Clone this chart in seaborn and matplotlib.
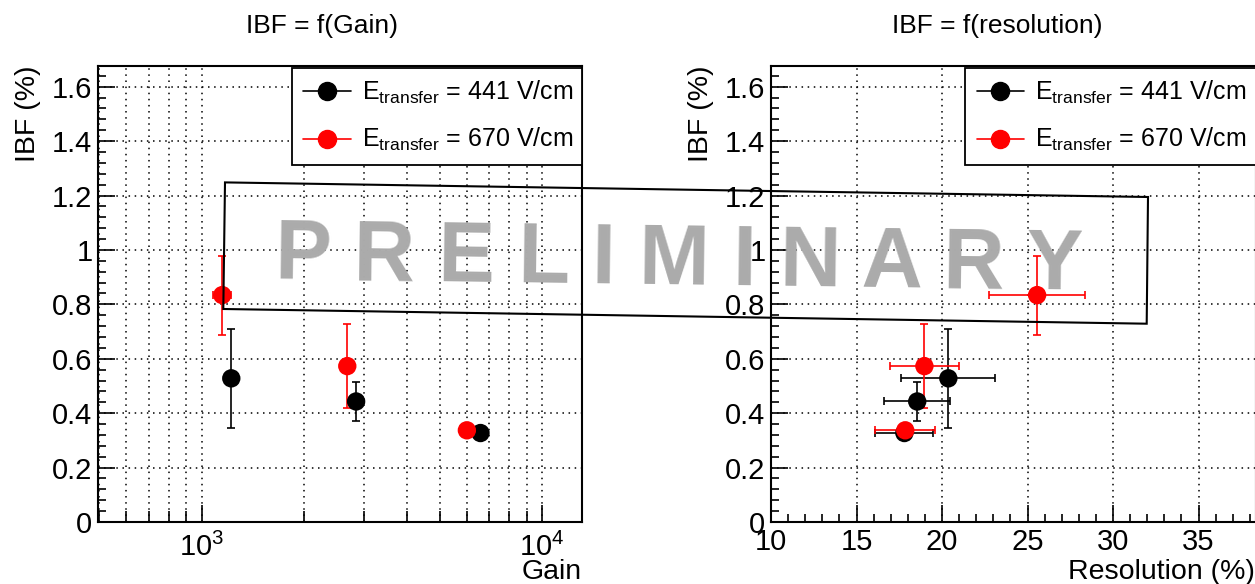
import numpy as np
import pandas as pd
import matplotlib
matplotlib.use('Agg')
import matplotlib.pyplot as plt
from matplotlib.lines import Line2D
from matplotlib.patches import Polygon
from matplotlib.ticker import MultipleLocator, FormatStrFormatter
import seaborn as sns

# data
fields = ['441 V/cm', '670 V/cm']
gain_441 = [1220, 2840, 6590]
gain_670 = [1148, 2675, 6010]
gain_err_441 = [0, 0, 0]
gain_err_670 = [72, 0, 0]
ibf_441 = [0.528, 0.443, 0.327]
ibf_670 = [0.834, 0.573, 0.337]
ibf_err_441 = [0.183, 0.072, 0.015]
ibf_err_670 = [0.145, 0.155, 0.015]
res_441 = [20.37, 18.55, 17.8]
res_670 = [25.56, 18.97, 17.85]
res_err_441 = [2.74, 1.92, 1.7]
res_err_670 = [2.82, 2.04, 1.76]

colors = {'441 V/cm': 'black', '670 V/cm': '#ff0000'}

df = pd.DataFrame({
    'field': [fields[0]] * 3 + [fields[1]] * 3,
    'gain': gain_441 + gain_670,
    'gain_err': gain_err_441 + gain_err_670,
    'ibf': ibf_441 + ibf_670,
    'ibf_err': ibf_err_441 + ibf_err_670,
    'res': res_441 + res_670,
    'res_err': res_err_441 + res_err_670,
})

sns.set_theme(style='ticks')
plt.rcParams['font.family'] = ['Liberation Sans', 'DejaVu Sans']
plt.rcParams['mathtext.fontset'] = 'custom'
plt.rcParams['mathtext.rm'] = 'Liberation Sans'
plt.rcParams['mathtext.it'] = 'Liberation Sans:italic'
plt.rcParams['mathtext.bf'] = 'Liberation Sans:bold'
plt.rcParams['text.color'] = 'black'
plt.rcParams['axes.labelcolor'] = 'black'
plt.rcParams['xtick.color'] = 'black'
plt.rcParams['ytick.color'] = 'black'

fig = plt.figure(figsize=(12.55, 5.84), dpi=100)
W, H = 1255, 584
ax1 = fig.add_axes([98 / W, 62 / H, 484 / W, 456 / H])
ax2 = fig.add_axes([771 / W, 62 / H, 485 / W, 456 / H])

grid_kw = dict(color='black', linestyle=(0, (1, 3)), linewidth=1.1)


def draw(ax, xcol, xerrcol):
    for f in fields:
        sub = df[df['field'] == f]
        xerr = sub[xerrcol].values
        ax.errorbar(sub[xcol], sub['ibf'], yerr=sub['ibf_err'],
                    xerr=np.where(xerr > 0, xerr, np.nan) if xerr.any() else None,
                    fmt='none', ecolor=colors[f], elinewidth=1.2,
                    capsize=3, capthick=1.2, zorder=3)
    sns.scatterplot(data=df, x=xcol, y='ibf', hue='field', palette=colors,
                    s=175, edgecolor='none', legend=False, ax=ax, zorder=4)
    ax.set_ylim(0, 1.676)
    ax.yaxis.set_major_locator(MultipleLocator(0.2))
    ax.yaxis.set_minor_locator(MultipleLocator(0.04))
    ax.yaxis.set_major_formatter(FormatStrFormatter('%g'))
    ax.tick_params(which='both', direction='in', top=False, right=False,
                   labelsize=21, width=1.2, color='black', labelcolor='black')
    ax.tick_params(axis='y', which='major', length=12, pad=4)
    ax.tick_params(axis='y', which='minor', length=6)
    ax.set_xlabel('')
    ax.set_ylabel('')
    for s in ax.spines.values():
        s.set_linewidth(1.5)
        s.set_color('black')
    ax.grid(axis='y', which='major', **grid_kw)
    ax.text(-0.145, 1.0, 'IBF (%)', rotation=90, ha='center', va='top',
            fontsize=20.5, transform=ax.transAxes)
    handles = [Line2D([], [], color=colors[f], marker='o', markersize=13,
                      linewidth=1.2) for f in fields]
    labels = [r'$\mathrm{E}_{\mathrm{transfer}}$ = ' + f for f in fields]
    leg = ax.legend(handles, labels, loc='upper left',
                    bbox_to_anchor=(0.401, 0.996, 0.599, 0.0), mode='expand',
                    borderaxespad=0, fontsize=18, frameon=True, fancybox=False,
                    framealpha=1, edgecolor='black', handlelength=1.9,
                    handletextpad=0.45, labelspacing=0.8, borderpad=0.45)
    leg.get_frame().set_linewidth(1.3)
    leg.set_zorder(5)


# left: IBF vs gain
draw(ax1, 'gain', 'gain_err')
ax1.set_xscale('log')
ax1.set_xlim(495, 13100)
ax1.tick_params(axis='x', which='major', length=12, pad=8)
ax1.tick_params(axis='x', which='minor', length=8)
ax1.grid(axis='x', which='both', **grid_kw)
ax1.text(1.0, -0.125, 'Gain', ha='right', va='baseline', fontsize=20.5,
         transform=ax1.transAxes)

# right: IBF vs resolution
draw(ax2, 'res', 'res_err')
ax2.set_xlim(10, 38.36)
ax2.xaxis.set_major_locator(MultipleLocator(5))
ax2.xaxis.set_minor_locator(MultipleLocator(1))
ax2.tick_params(axis='x', which='major', length=12, pad=4)
ax2.tick_params(axis='x', which='minor', length=6)
ax2.grid(axis='x', which='major', **grid_kw)
ax2.text(0.997, -0.125, 'Resolution (%)', ha='right', va='baseline',
         fontsize=20.5, transform=ax2.transAxes)

fig.text(322 / W, 1 - 26 / H, 'IBF = f(Gain)', ha='center', va='center',
         fontsize=19)
fig.text(997 / W, 1 - 26 / H, 'IBF = f(resolution)', ha='center',
         va='center', fontsize=19)

# preliminary stamp
corners = [(225, 182.4), (1148, 197), (1146.7, 323.7), (223.3, 309)]
stamp = Polygon([(x / W, 1 - y / H) for x, y in corners], closed=True,
                fill=False, edgecolor='black', linewidth=1.5,
                transform=fig.transFigure, zorder=10)
fig.patches.append(stamp)
fig.text(678.5 / W, 1 - 284 / H, 'P R E L I M I N A R Y', ha='center',
         va='baseline', rotation=-0.75, rotation_mode='anchor',
         fontsize=61, fontweight='bold', color='#ababab', zorder=11)

fig.savefig('out.png', dpi=100)
